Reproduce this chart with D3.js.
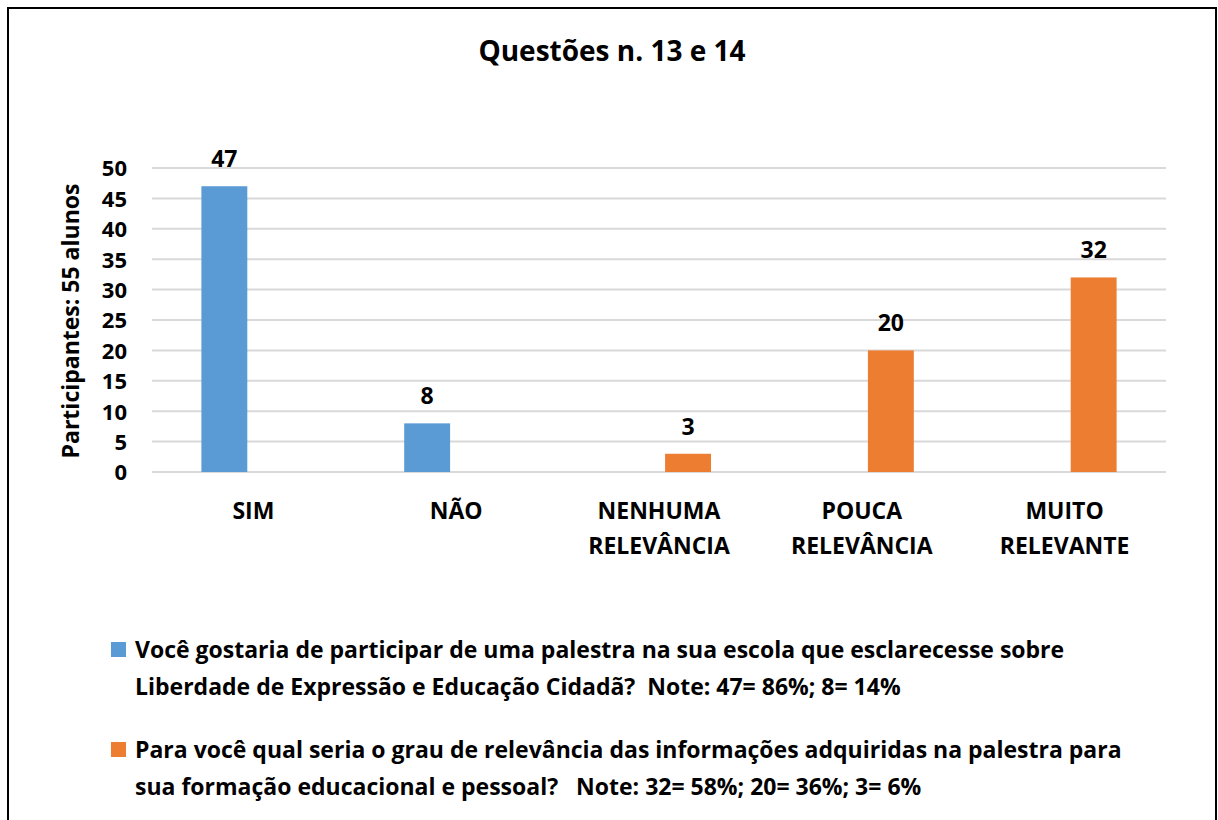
<!DOCTYPE html>
<html>
<head>
<meta charset="utf-8">
<script src="https://cdn.jsdelivr.net/npm/d3@7"></script>
<style>
  body { margin: 0; background: #fff; }
  text { font-family: "Open Sans", "Noto Sans", sans-serif; font-weight: 700; fill: #000; white-space: pre; }
</style>
</head>
<body>
<div id="container"></div>
<script>
let w = 1218;
let h = 820;

// data
let categories = ["SIM", "NÃO", "NENHUMA|RELEVÂNCIA", "POUCA|RELEVÂNCIA", "MUITO|RELEVANTE"];
let seriesNames = ["q13", "q14"];
let q13Values = [47, 8, null, null, null];
let q14Values = [null, null, 3, 20, 32];
let seriesColors = ["#5B9BD5", "#ED7D31"];
let yTicks = [0, 5, 10, 15, 20, 25, 30, 35, 40, 45, 50];
let legendLines = [
  ["Você gostaria de participar de uma palestra na sua escola que esclarecesse sobre",
   "Liberdade de Expressão e Educação Cidadã?  Note: 47= 86%; 8= 14%"],
  ["Para você qual seria o grau de relevância das informações adquiridas na palestra para",
   "sua formação educacional e pessoal?   Note: 32= 58%; 20= 36%; 3= 6%"]
];

let plot = {left: 152, right: 1166, top: 168, bottom: 472};

let viz = d3.select("#container").append("svg")
    .attr("width", w)
    .attr("height", h)
    .style("display", "block");

// chart border
viz.append("rect")
    .attr("x", 8).attr("y", 8)
    .attr("width", 1208).attr("height", 830)
    .attr("fill", "none")
    .attr("stroke", "#000")
    .attr("stroke-width", 2);

viz.append("text")
    .attr("x", 612).attr("y", 61)
    .attr("text-anchor", "middle")
    .style("font-size", "28px")
    .text("Questões n. 13 e 14");

let x0 = d3.scaleBand().domain(categories).range([plot.left, plot.right]);
let x1 = d3.scaleBand().domain(seriesNames).range([0, x0.bandwidth()])
    .paddingInner(0.21).paddingOuter(0.85);
let y = d3.scaleLinear().domain([0, 50]).range([plot.bottom, plot.top]);

// gridlines
viz.selectAll(".grid").data(yTicks).enter()
  .append("line")
    .attr("class", "grid")
    .attr("x1", plot.left).attr("x2", plot.right)
    .attr("y1", d => y(d)).attr("y2", d => y(d))
    .attr("stroke", "#d9d9d9")
    .attr("stroke-width", 2);

// y axis labels
let yAxis = d3.axisLeft(y).tickValues(yTicks).tickSize(0).tickPadding(25);
let yG = viz.append("g").attr("transform", `translate(${plot.left},0)`).call(yAxis);
yG.select(".domain").remove();
yG.selectAll("text")
    .style("font-size", "22px")
    .style("font-family", "'Open Sans', sans-serif")
    .attr("dy", "0.36em");

viz.append("text")
    .attr("transform", `translate(79, ${(plot.top + plot.bottom) / 2 + 1}) rotate(-90)`)
    .attr("text-anchor", "middle")
    .style("font-size", "23px")
    .text("Participantes: 55 alunos");

// bars
let series = [q13Values, q14Values];
series.forEach((vals, si) => {
  let pts = categories.map((c, i) => ({cat: c, v: vals[i]})).filter(d => d.v != null);
  viz.selectAll(".bar" + si).data(pts).enter()
    .append("rect")
      .attr("class", "bar" + si)
      .attr("x", d => x0(d.cat) + x1(seriesNames[si]))
      .attr("width", x1.bandwidth())
      .attr("y", d => y(d.v))
      .attr("height", d => y(0) - y(d.v))
      .attr("fill", seriesColors[si]);
  viz.selectAll(".lab" + si).data(pts).enter()
    .append("text")
      .attr("class", "lab" + si)
      .attr("x", d => x0(d.cat) + x1(seriesNames[si]) + x1.bandwidth() / 2)
      .attr("y", d => y(d.v) - 19)
      .attr("text-anchor", "middle")
      .style("font-size", "23px")
      .text(d => d.v);
});

// category labels
categories.forEach(c => {
  let t = viz.append("text")
      .attr("x", x0(c) + x0.bandwidth() / 2)
      .attr("y", 519)
      .attr("text-anchor", "middle")
      .style("font-size", "23px");
  c.split("|").forEach((line, li) => {
    t.append("tspan")
      .attr("x", x0(c) + x0.bandwidth() / 2)
      .attr("dy", li == 0 ? 0 : 35)
      .text(line);
  });
});

// legend
let legendY = [650, 750];
legendLines.forEach((lines, li) => {
  viz.append("rect")
      .attr("x", 111).attr("y", legendY[li] - 8)
      .attr("width", 15).attr("height", 15)
      .attr("fill", seriesColors[li]);
  lines.forEach((line, k) => {
    viz.append("text")
        .attr("x", 135)
        .attr("y", legendY[li] + 8 + k * 37)
        .style("font-size", "23px")
        .text(line);
  });
});
</script>
</body>
</html>
